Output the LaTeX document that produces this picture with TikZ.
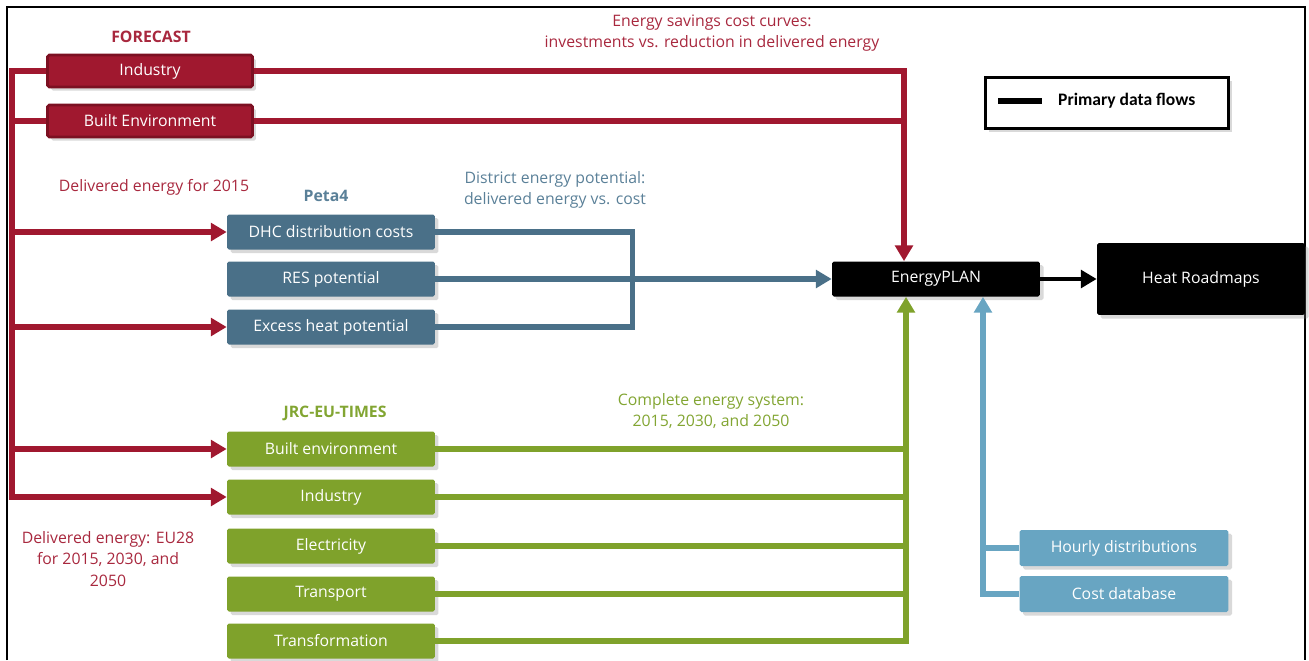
\documentclass[tikz,border=0pt]{standalone}
\usepackage{fontspec}
\setmainfont{Open Sans}
\newfontfamily\legendfont{Carlito}
\usetikzlibrary{arrows.meta,positioning,shadows}
\definecolor{fcred}{HTML}{A0182F}
\definecolor{fcdark}{HTML}{7C1022}
\definecolor{fctext}{HTML}{A8283E}
\definecolor{petablue}{HTML}{4A7088}
\definecolor{petatext}{HTML}{5A8098}
\definecolor{jrcgreen}{HTML}{7FA22B}
\definecolor{jrctext}{HTML}{82A532}
\definecolor{dbblue}{HTML}{68A5C2}

\begin{document}
\begin{tikzpicture}
[x=0.02cm,y=-0.02cm,
 font=\fontsize{9}{12}\selectfont,
 box/.style={rectangle,rounded corners=1pt,minimum width=4.16cm,minimum height=0.7cm,
   inner sep=0pt,text=white,drop shadow={opacity=0.3,shadow xshift=2pt,shadow yshift=-2pt}},
 fc/.style={box,fill=fcred,draw=fcdark,line width=1.5pt,minimum width=4.1cm,minimum height=0.64cm},
 pt/.style={box,fill=petablue},
 jrc/.style={box,fill=jrcgreen},
 db/.style={box,fill=dbblue,minimum width=4.18cm,minimum height=0.72cm},
 blk/.style={box,fill=black},
 lab/.style={align=center},
 hd/.style={font=\fontsize{9}{12}\selectfont\bfseries},
 redl/.style={draw=fcred,line width=3pt},
 bluel/.style={draw=petablue,line width=3pt},
 greenl/.style={draw=jrcgreen,line width=3pt},
 dbl/.style={draw=dbblue,line width=3pt},
 arr/.style={-{Triangle[length=9pt,width=10pt]}}]
\useasboundingbox (0,0) rectangle (1309,660);
\draw[line width=1.2pt] (7,660) -- (7,7) -- (1305,7) -- (1305,660);

% FORECAST
\node[hd,text=fctext] (fch) at (151,37) {FORECAST};
\node[fc] (fi) at (150,71) {Industry};
\node[fc] (fb) at (150,121) {Built Environment};
\node[lab,text=fctext] (fcl) at (712,33) {Energy savings cost curves:\\investments vs. reduction in delivered energy};
\node[lab,text=fctext] (del) at (154,187) {Delivered energy for 2015};
\node[lab,text=fctext] (deu) at (108,559) {Delivered energy: EU28\\for 2015, 2030, and\\2050};

% Peta4
\node[hd,text=petatext] (pth) at (326,196) {Peta4};
\node[pt] (dhc) at (331,232) {DHC distribution  costs};
\node[pt] (res) at (331,279) {RES potential};
\node[pt] (ex) at (331,327) {Excess heat potential};
\node[lab,text=petatext] (ptl) at (555,190) {District energy potential:\\delivered energy vs. cost};

% JRC-EU-TIMES
\node[hd,text=jrctext] (jh) at (335,413) {JRC-EU-TIMES};
\node[jrc] (jb) at (331,449) {Built environment};
\node[jrc] (ji) at (331,497) {Industry};
\node[jrc] (je) at (331,546) {Electricity};
\node[jrc] (jt) at (331,594) {Transport};
\node[jrc] (jx) at (331,641) {Transformation};
\node[lab,text=jrctext] (jl) at (711,411) {Complete energy system:\\2015, 2030, and 2050};

% EnergyPLAN and results
\node[blk] (ep) at (936,279) {EnergyPLAN};
\node[blk,minimum height=1.44cm] (hr) at (1201,279) {Heat Roadmaps};
\node[db] (hd) at (1124,548) {Hourly distributions};
\node[db] (cd) at (1124,594) {Cost database};

% legend
\node[draw,line width=1.7pt,fill=white,minimum width=4.86cm,minimum height=1.02cm,
  drop shadow={opacity=0.3,shadow xshift=2pt,shadow yshift=-2pt}] (leg) at (1107,103) {};
\coordinate (lga) at (998,101);
\coordinate (lgb) at (1042,101);
\draw[line width=3pt] (lga) -- (lgb);
\node[right=0.2cm of lgb,font=\legendfont\fontsize{10}{12}\selectfont\bfseries] (lgt) {Primary data flows};

% red flows
\coordinate (rl) at (12,71);
\coordinate (rin) at ([xshift=-0.64cm]ep.north);
\draw[redl,arr] (fi.east) -| (rin);
\draw[redl] (fb.east) -- (fb.east -| rin);
\draw[redl,arr] (fi.west) -- (rl) |- (ji.west);
\draw[redl] (fb.west) -- (fb.west -| rl);
\draw[redl,arr] (rl |- dhc.west) -- (dhc.west);
\draw[redl,arr] (rl |- ex.west) -- (ex.west);
\draw[redl,arr] (rl |- jb.west) -- (jb.west);

% Peta4 flows
\draw[bluel] (dhc.east) -- ++(3.94cm,0) |- (ex.east);
\draw[bluel,arr] (res.east) -- (ep.west);

% green flows
\coordinate (gin) at ([xshift=-0.6cm]ep.south);
\draw[greenl,arr] (jx.east) -| (gin);
\draw[greenl] (jb.east) -- (jb.east -| gin);
\draw[greenl] (ji.east) -- (ji.east -| gin);
\draw[greenl] (je.east) -- (je.east -| gin);
\draw[greenl] (jt.east) -- (jt.east -| gin);

% database flows
\coordinate (lin) at ([xshift=0.94cm]ep.south);
\draw[dbl,arr] (cd.west) -| (lin);
\draw[dbl] (hd.west) -- (hd.west -| lin);

\draw[line width=2.6pt,arr] (ep.east) -- (hr.west);
\end{tikzpicture}
\end{document}
